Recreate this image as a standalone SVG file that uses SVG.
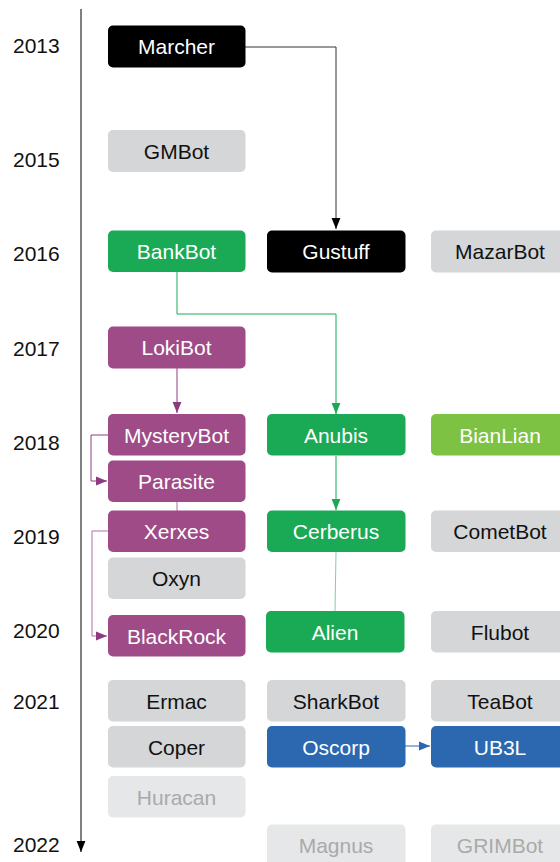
<svg xmlns="http://www.w3.org/2000/svg" width="560" height="862" viewBox="0 0 560 862">
<defs>
<style>
text{font-family:"Liberation Sans",Arial,sans-serif;font-size:21px;text-anchor:middle}
.yr{text-anchor:start;fill:#111}
.wt{fill:#fff}
.bk{fill:#111}
.ft{fill:#aaaaaa}
.black{fill:#000}
.green{fill:#1aaa55}
.lgreen{fill:#7dc242}
.purple{fill:#9e4b87}
.blue{fill:#2b68b0}
.gray{fill:#d5d6d8}
.lgray{fill:#e6e7e8}
.c{fill:none;stroke-width:1}
</style>
<marker id="ak" viewBox="0 0 10 10" refX="10" refY="5" markerWidth="11" markerHeight="11" markerUnits="userSpaceOnUse" orient="auto"><path d="M0,1L10,5L0,9z" fill="#000"/></marker>
<marker id="ag" viewBox="0 0 10 10" refX="10" refY="5" markerWidth="11" markerHeight="11" markerUnits="userSpaceOnUse" orient="auto"><path d="M0,1L10,5L0,9z" fill="#1aaa55"/></marker>
<marker id="ap" viewBox="0 0 10 10" refX="10" refY="5" markerWidth="11" markerHeight="11" markerUnits="userSpaceOnUse" orient="auto"><path d="M0,1L10,5L0,9z" fill="#8e3a80"/></marker>
<marker id="ab" viewBox="0 0 10 10" refX="10" refY="5" markerWidth="11" markerHeight="11" markerUnits="userSpaceOnUse" orient="auto"><path d="M0,1L10,5L0,9z" fill="#2b68b0"/></marker>
</defs>
<rect width="560" height="862" fill="#fff"/>
<g id="axis">
<line x1="81" y1="9" x2="81" y2="852" stroke="#000" stroke-width="1" marker-end="url(#ak)"/>
<text class="yr" x="13" y="53">2013</text>
<text class="yr" x="13" y="167">2015</text>
<text class="yr" x="13" y="261">2016</text>
<text class="yr" x="13" y="356">2017</text>
<text class="yr" x="13" y="450">2018</text>
<text class="yr" x="13" y="544">2019</text>
<text class="yr" x="13" y="638">2020</text>
<text class="yr" x="13" y="709">2021</text>
<text class="yr" x="13" y="852">2022</text>
</g>
<g id="connectors">
<path class="c" d="M245,47H336V229" stroke="#333" marker-end="url(#ak)"/>
<path class="c" d="M177,272V314H336V414" stroke="#1aaa55" marker-end="url(#ag)"/>
<path class="c" d="M177,368V413" stroke="#8e3a80" marker-end="url(#ap)"/>
<path class="c" d="M108,435H91V481H107" stroke="#8e3a80" marker-end="url(#ap)"/>
<path class="c" d="M177,502V511" stroke="#b36fa3"/>
<path class="c" d="M108,531H92V636H107" stroke="#b36fa3" marker-end="url(#ap)"/>
<path class="c" d="M336,456V510" stroke="#1aaa55" marker-end="url(#ag)"/>
<path class="c" d="M336,552L335,611" stroke="#7fd1a0"/>
<path class="c" d="M405,746H430" stroke="#2b68b0" marker-end="url(#ab)"/>
</g>
<g id="Marcher"><rect class="black" x="108" y="25.5" width="137.5" height="42" rx="5"/><text class="wt" x="176.5" y="53.5">Marcher</text></g>
<g id="GMBot"><rect class="gray" x="108" y="130" width="137.5" height="42" rx="5"/><text class="bk" x="176.5" y="158.5">GMBot</text></g>
<g id="BankBot"><rect class="green" x="108" y="230.5" width="137.5" height="41.5" rx="5"/><text class="wt" x="176.5" y="258.5">BankBot</text></g>
<g id="Gustuff"><rect class="black" x="267" y="230.5" width="138.5" height="42" rx="5"/><text class="wt" x="336" y="258.5">Gustuff</text></g>
<g id="MazarBot"><rect class="gray" x="431" y="230.5" width="138" height="42" rx="5"/><text class="bk" x="500" y="258.5">MazarBot</text></g>
<g id="LokiBot"><rect class="purple" x="108" y="326.5" width="137.5" height="42" rx="5"/><text class="wt" x="176.5" y="354.5">LokiBot</text></g>
<g id="MysteryBot"><rect class="purple" x="108" y="414" width="137.5" height="41.5" rx="5"/><text class="wt" x="176.5" y="442.5">MysteryBot</text></g>
<g id="Anubis"><rect class="green" x="267" y="414" width="138.5" height="41.5" rx="5"/><text class="wt" x="336" y="442.5">Anubis</text></g>
<g id="BianLian"><rect class="lgreen" x="431" y="414" width="138" height="41.5" rx="5"/><text class="wt" x="500" y="442.5">BianLian</text></g>
<g id="Parasite"><rect class="purple" x="108" y="460.5" width="137.5" height="41.5" rx="5"/><text class="wt" x="176.5" y="488.5">Parasite</text></g>
<g id="Xerxes"><rect class="purple" x="108" y="510.5" width="137.5" height="41.5" rx="5"/><text class="wt" x="176.5" y="538.5">Xerxes</text></g>
<g id="Cerberus"><rect class="green" x="267" y="510.5" width="138.5" height="41.5" rx="5"/><text class="wt" x="336" y="538.5">Cerberus</text></g>
<g id="CometBot"><rect class="gray" x="431" y="510.5" width="138" height="41.5" rx="5"/><text class="bk" x="500" y="538.5">CometBot</text></g>
<g id="Oxyn"><rect class="gray" x="108" y="557.5" width="137.5" height="41.5" rx="5"/><text class="bk" x="176.5" y="585.5">Oxyn</text></g>
<g id="BlackRock"><rect class="purple" x="108" y="615" width="137.5" height="41.5" rx="5"/><text class="wt" x="176.5" y="643.5">BlackRock</text></g>
<g id="Alien"><rect class="green" x="266" y="611" width="138.5" height="41.5" rx="5"/><text class="wt" x="335" y="639.5">Alien</text></g>
<g id="Flubot"><rect class="gray" x="431" y="611" width="138" height="41.5" rx="5"/><text class="bk" x="500" y="639.5">Flubot</text></g>
<g id="Ermac"><rect class="gray" x="108" y="680" width="137.5" height="41.5" rx="5"/><text class="bk" x="176.5" y="708.5">Ermac</text></g>
<g id="SharkBot"><rect class="gray" x="267" y="680" width="138.5" height="41.5" rx="5"/><text class="bk" x="336" y="708.5">SharkBot</text></g>
<g id="TeaBot"><rect class="gray" x="431" y="680" width="138" height="41.5" rx="5"/><text class="bk" x="500" y="708.5">TeaBot</text></g>
<g id="Coper"><rect class="gray" x="108" y="726" width="137.5" height="41.5" rx="5"/><text class="bk" x="176.5" y="754.5">Coper</text></g>
<g id="Oscorp"><rect class="blue" x="267" y="726" width="138.5" height="41.5" rx="5"/><text class="wt" x="336" y="754.5">Oscorp</text></g>
<g id="UB3L"><rect class="blue" x="431" y="726" width="138" height="41.5" rx="5"/><text class="wt" x="500" y="754.5">UB3L</text></g>
<g id="Huracan"><rect class="lgray" x="108" y="776" width="137.5" height="41.5" rx="5"/><text class="ft" x="176.5" y="804.5">Huracan</text></g>
<g id="Magnus"><rect class="lgray" x="267" y="824.5" width="138.5" height="41.5" rx="5"/><text class="ft" x="336" y="852.5">Magnus</text></g>
<g id="GRIMBot"><rect class="lgray" x="431" y="824.5" width="138" height="41.5" rx="5"/><text class="ft" x="500" y="852.5">GRIMBot</text></g>
</svg>
